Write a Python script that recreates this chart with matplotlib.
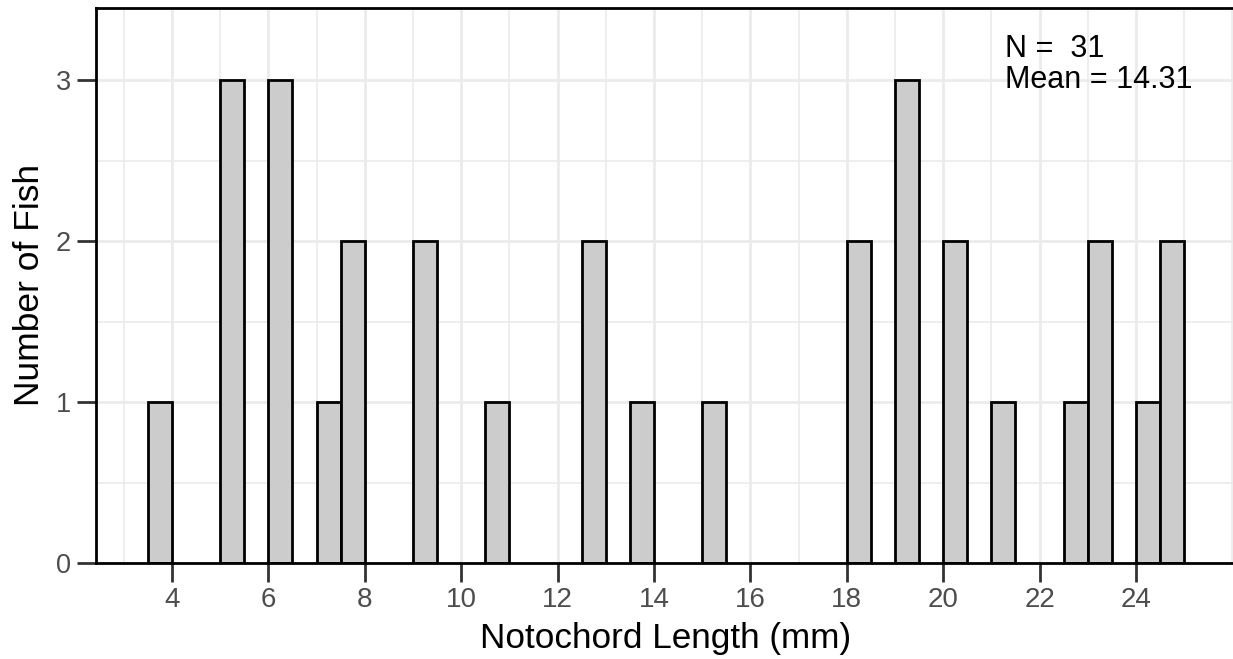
import matplotlib
matplotlib.use("Agg")
import matplotlib.pyplot as plt
from matplotlib.ticker import MultipleLocator

plt.rcParams['font.family'] = ['Liberation Sans', 'DejaVu Sans']

# Histogram bins (width 0.5 mm): left edges and counts
bin_width = 0.5
bin_lefts = [3.5, 5.0, 6.0, 7.0, 7.5, 9.0, 10.5, 12.5, 13.5, 15.0,
             18.0, 19.0, 20.0, 21.0, 22.5, 23.0, 24.0, 24.5]
counts = [1, 3, 3, 1, 2, 2, 1, 2, 1, 1, 2, 3, 2, 1, 1, 2, 1, 2]
x_ticks = [4, 6, 8, 10, 12, 14, 16, 18, 20, 22, 24]
y_ticks = [0, 1, 2, 3]
n_label = "N =  31"
mean_label = "Mean = 14.31"

W, H = 1233, 659
fig = plt.figure(figsize=(W / 100, H / 100), dpi=100)
ax = fig.add_axes([96 / W, (H - 563) / H, 1140 / W, 555 / H])

ax.bar(bin_lefts, counts, width=bin_width, align='edge', color='#CCCCCC',
       edgecolor='black', linewidth=2.0, zorder=3)

ax.set_xlim(2.425, 26.075)
ax.set_ylim(0, 3.45)
ax.set_xticks(x_ticks)
ax.set_yticks(y_ticks)
ax.xaxis.set_minor_locator(MultipleLocator(1))
ax.yaxis.set_minor_locator(MultipleLocator(0.5))

ax.grid(which='major', color='#EBEBEB', linewidth=2.0, zorder=0)
ax.grid(which='minor', color='#EBEBEB', linewidth=1.2, zorder=0)
ax.set_axisbelow(True)

for s in ax.spines.values():
    s.set_color('black')
    s.set_linewidth(2.0)
    s.set_zorder(4)

ax.tick_params(axis='both', which='major', length=14, width=2.0,
               color='#333333', labelcolor='#4D4D4D')
ax.tick_params(axis='x', which='major', labelsize=20, pad=3.5)
ax.tick_params(axis='y', which='major', labelsize=19.5, pad=4)
ax.tick_params(axis='both', which='minor', length=0)

ax.set_xlabel("Notochord Length (mm)", fontsize=25.3, color='black', labelpad=6)
ax.set_ylabel("Number of Fish", fontsize=25.5, color='black', labelpad=7)

ax.text(21.28, 3.143, n_label, fontsize=22, color='black', va='baseline', ha='left')
ax.text(21.28, 2.95, mean_label, fontsize=22, color='black', va='baseline', ha='left')

fig.savefig("out.png", dpi=100)
